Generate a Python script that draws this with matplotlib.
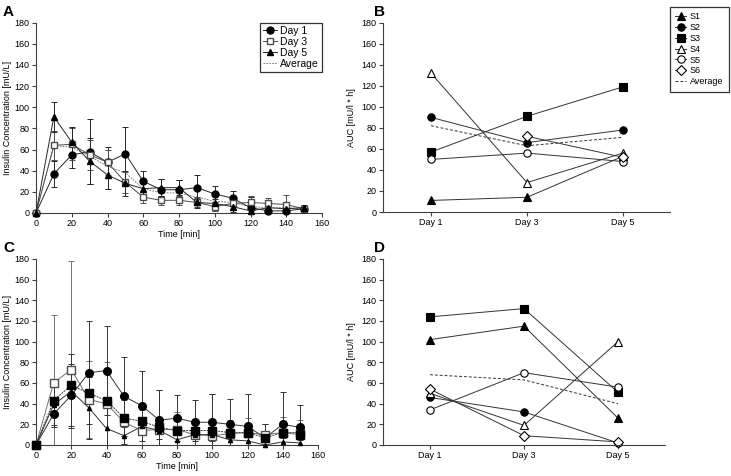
import numpy as np
import matplotlib.pyplot as plt

plt.rcParams['font.family'] = ['Liberation Sans', 'DejaVu Sans']
plt.rcParams['font.size'] = 6.5

# ---- data ----
time = [0, 10, 20, 30, 40, 50, 60, 70, 80, 90, 100, 110, 120, 130, 140, 150]

# panel A
a_day1 = [0, 37, 55, 58, 48, 56, 30, 22, 22, 24, 18, 14, 5, 2, 2, 4]
a_day1_err = [0, 12, 12, 31, 14, 25, 10, 10, 9, 12, 8, 7, 10, 5, 5, 3]
a_day3 = [0, 64, 65, 55, 48, 29, 15, 12, 12, 10, 6, 9, 10, 9, 8, 4]
a_day3_err = [0, 14, 15, 14, 12, 10, 6, 4, 4, 4, 4, 5, 6, 5, 9, 3]
a_day5 = [0, 91, 67, 49, 36, 28, 23, 24, 24, 10, 9, 6, 2, 5, 4, 5]
a_day5_err = [0, 14, 14, 22, 13, 12, 6, 8, 7, 5, 4, 5, 3, 4, 4, 3]
a_avg = [0, 64, 62, 54, 44, 38, 23, 19, 19, 15, 11, 10, 6, 5, 5, 4]

# panel C
c_circ = [0, 30, 48, 70, 72, 47, 38, 24, 26, 22, 22, 20, 18, 7, 20, 17]
c_circ_err = [0, 13, 30, 50, 43, 38, 34, 29, 22, 22, 27, 25, 31, 13, 31, 22]
c_osq = [0, 60, 73, 44, 40, 22, 14, 15, 15, 10, 9, 11, 12, 10, 12, 12]
c_osq_err = [0, 66, 105, 37, 40, 22, 20, 38, 17, 12, 40, 13, 14, 10, 15, 12]
c_fsq = [0, 43, 58, 50, 43, 26, 23, 17, 14, 14, 14, 12, 12, 7, 12, 10]
c_tri = [0, 39, 52, 36, 16, 9, 18, 14, 5, 10, 10, 5, 4, 0, 3, 2]
c_tri_err = [0, 20, 36, 30, 20, 8, 6, 8, 5, 6, 6, 5, 4, 3, 4, 3]

# panels B and D (AUC per subject)
days = ['Day 1', 'Day 3', 'Day 5']
subjects = ['S1', 'S2', 'S3', 'S4', 'S5', 'S6']
b_auc = [[11, 14, 53],
         [90, 66, 78],
         [57, 91, 119],
         [132, 28, 56],
         [50, 56, 48],
         [np.nan, 72, 52]]
b_avg = [82, 63, 71]
d_auc = [[102, 115, 26],
         [46, 32, 2],
         [124, 132, 51],
         [50, 19, 100],
         [34, 70, 56],
         [54, 9, 3]]
d_avg = [68, 63, 40]

# marker styles for subjects
sub_mk = [('^', 'k'), ('o', 'k'), ('s', 'k'), ('^', 'w'), ('o', 'w'), ('D', 'w')]

W, H = 731, 476
fig = plt.figure(figsize=(W / 100, H / 100), dpi=100)


def ax_px(x0, x1, ytop, ybot):
    return fig.add_axes([x0 / W, 1 - ybot / H, (x1 - x0) / W, (ybot - ytop) / H])


def style(ax):
    for s in ['top', 'right']:
        ax.spines[s].set_visible(False)
    for s in ['left', 'bottom']:
        ax.spines[s].set_linewidth(0.8)
        ax.spines[s].set_color('0.25')
    ax.tick_params(direction='out', length=3, width=0.8, color='0.25',
                   labelsize=6.5, pad=1.5)
    ax.set_ylim(0, 180)
    ax.set_yticks(range(0, 181, 20))


def time_ax(ax):
    style(ax)
    ax.set_xlim(0, 160)
    ax.set_xticks(range(0, 161, 20))
    ax.set_xlabel('Time [min]', labelpad=1)
    ax.set_ylabel('Insulin Concentration [mU/L]', labelpad=2)


lw = 0.7


def series(ax, y, err, ecol, label=None, ls='-', **mk):
    if err is not None:
        ax.errorbar(time, y, yerr=err, fmt='none', ecolor=ecol, elinewidth=0.7,
                    capsize=2.5, capthick=0.7, zorder=2)
    ax.plot(time, y, color=ecol, lw=lw, ls=ls, label=label, zorder=3,
            clip_on=False, **mk)


# ---- A ----
axA = ax_px(36, 322, 22.7, 213)
time_ax(axA)
series(axA, a_day1, a_day1_err, '0.15', 'Day 1', marker='o', ms=5, mfc='k', mec='k')
series(axA, a_day3, a_day3_err, '0.3', 'Day 3', marker='s', ms=5, mfc='w', mec='0.3')
series(axA, a_day5, a_day5_err, '0.15', 'Day 5', marker='^', ms=5, mfc='k', mec='k')
axA.plot(time, a_avg, color='0.4', ls=(0, (2, 1.5)), lw=0.6, label='Average',
         clip_on=False)
leg = axA.legend(loc='upper right', bbox_to_anchor=(1.0, 1.0),
                 fontsize=7.5, frameon=True, fancybox=False, edgecolor='k',
                 handlelength=1.3, handletextpad=0.3, labelspacing=0.1,
                 borderpad=0.3, borderaxespad=0)
leg.get_frame().set_linewidth(0.9)

# ---- C ----
axC = ax_px(36, 318, 259, 445)
time_ax(axC)
series(axC, c_osq, c_osq_err, '0.45', marker='s', ms=5.5, mfc='w', mec='0.3')
series(axC, c_circ, c_circ_err, '0.2', marker='o', ms=5.5, mfc='k', mec='k')
series(axC, c_tri, c_tri_err, '0.2', marker='^', ms=3, mfc='k', mec='k')
series(axC, c_fsq, None, '0.2', ls=(0, (2, 1)), marker='s', ms=5.5, mfc='k', mec='k')


# ---- B and D ----
def auc_ax(ax, data, avg, xmax):
    style(ax)
    ax.set_xlim(-0.5, xmax)
    ax.set_xticks(range(len(days)))
    ax.set_xticklabels(days)
    ax.set_ylabel('AUC [mU/l * h]', labelpad=4)
    for row, name, (mk, fc) in zip(data, subjects, sub_mk):
        ms = 4.6 if mk == 'D' else 5.3
        ax.plot(range(len(days)), row, color='0.2', lw=lw, marker=mk, ms=ms,
                mfc=fc, mec='k', mew=0.8, label=name, clip_on=False)
    ax.plot(range(len(days)), avg, color='0.2', lw=0.7, ls=(0, (3, 2)),
            label='Average')


axB = ax_px(383, 670, 22.7, 212)
auc_ax(axB, b_auc, b_avg, 2.49)
hs, ls = axB.get_legend_handles_labels()
leg = fig.legend(hs, ls, loc='upper left', bbox_to_anchor=(670 / W, 1 - 7 / H),
                 fontsize=6.5, frameon=True, fancybox=False, edgecolor='k',
                 handlelength=1.2, handletextpad=0.4, labelspacing=0.2,
                 borderpad=0.6, borderaxespad=0)
leg.get_frame().set_linewidth(0.9)

axD = ax_px(383, 665, 259, 445)
auc_ax(axD, d_auc, d_avg, 2.5)

# panel letters
for lab, (x, y) in zip('ABCD', [(3, 16), (374, 16), (3, 252), (374, 252)]):
    fig.text(x / W, 1 - y / H, lab, fontsize=11, fontweight='bold')

fig.savefig('out.png', dpi=100)
